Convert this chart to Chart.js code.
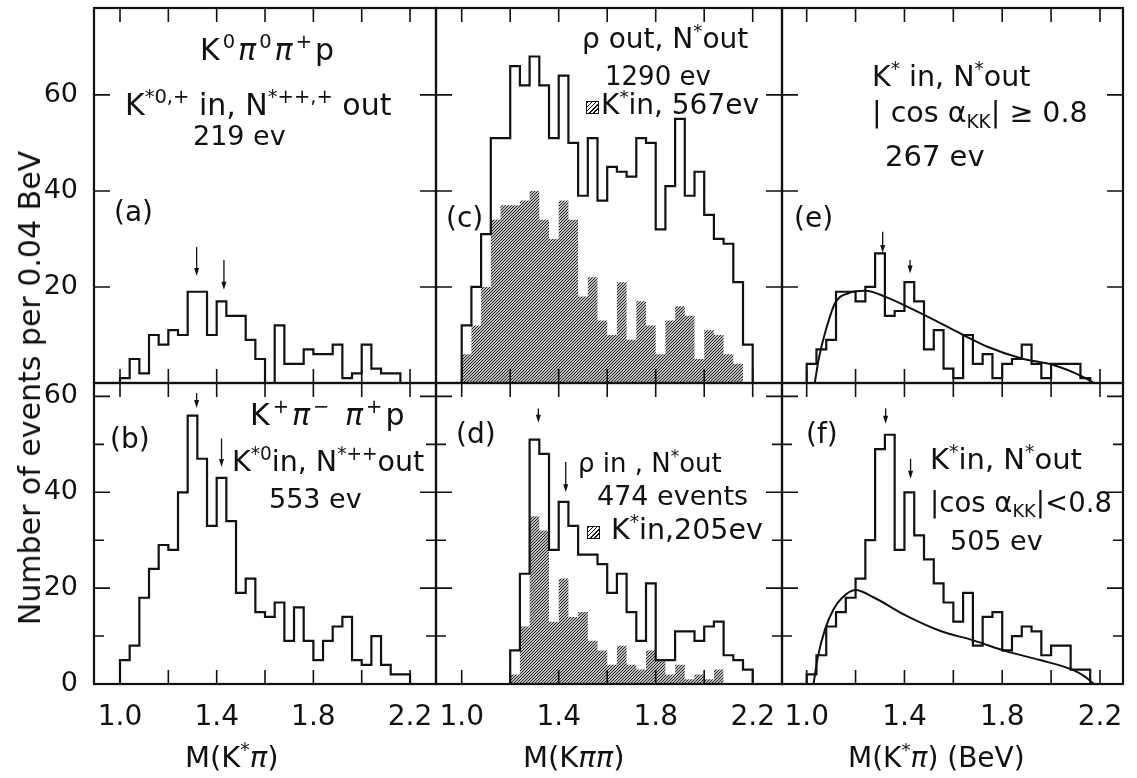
<!DOCTYPE html>
<html>
<head>
<meta charset="utf-8">
<script src="https://cdn.jsdelivr.net/npm/chart.js@4"></script>
<style>
html, body { margin: 0; padding: 0; background: #fff; }
#fig { position: relative; width: 1137px; height: 778px; overflow: hidden; font-family: "DejaVu Sans", sans-serif; color: #111; }
#fig canvas { position: absolute; left: 0; top: 0; }
.t { position: absolute; white-space: nowrap; line-height: 1; }
.t sup { font-size: 0.65em; vertical-align: 0; position: relative; top: -0.6em; }
.t sub { font-size: 0.65em; vertical-align: 0; position: relative; top: 0.32em; }
.wide { letter-spacing: 3px; }
.hb { display: inline-block; width: 11px; height: 11px; border: 1px solid #111; margin-right: 2px;
      background: repeating-linear-gradient(135deg, #111 0 1px, #fff 1px 3px); }
#ytitle { position: absolute; left: 30px; top: 388px; white-space: nowrap; font-size: 30px; line-height: 1;
          transform: translate(-50%, -50%) rotate(-90deg); }
</style>
</head>
<body>
<div id="fig">
  <canvas id="pa" width="1137" height="778"></canvas>
  <canvas id="pb" width="1137" height="778"></canvas>
  <canvas id="pc" width="1137" height="778"></canvas>
  <canvas id="pd" width="1137" height="778"></canvas>
  <canvas id="pe" width="1137" height="778"></canvas>
  <canvas id="pf" width="1137" height="778"></canvas>
  <div id="ytitle">Number of events per 0.04 BeV</div>
</div>
<script>
const binWidth = 0.04;

// (a) K0 pi0 pi+ p
const aStart = 1.00;
const aCounts = [1, 5, 2, 10, 8, 11, 10, 19, 19, 10, 17, 14, 14, 9, 5, 0, 12, 4, 4, 7, 6, 6, 8, 1, 2, 8, 3, 2, 2];

// (b) K+ pi- pi+ p
const bStart = 1.00;
const bCounts = [5, 8, 18, 24, 29, 28, 40, 56, 47, 33, 43, 34, 19, 22, 15, 14, 17, 9, 16, 9, 5, 9, 12, 14, 5, 4, 10, 4, 2, 2];

// (c) rho out, N* out (open) and K* in (hatched)
const cStart = 1.00;
const cOpen = [12, 20, 31, 51, 51, 66, 62, 68, 62, 51, 64, 50, 39, 51, 38, 45, 44, 43, 51, 50, 32, 41, 55, 39, 44, 35, 30, 29, 21, 8];
const cHatch = [6, 12, 20, 34, 37, 37, 38, 40, 34, 30, 38, 34, 18, 22, 13, 10, 21, 9, 17, 12, 6, 13, 16, 14, 5, 11, 10, 6, 4];

// (d) rho in, N* out (open) and K* in (hatched)
const dStart = 1.20;
const dOpen = [7, 23, 51, 48, 28, 38, 33, 27, 27, 25, 19, 23, 15, 9, 21, 5, 5, 11, 11, 9, 12, 13, 6, 5, 3];
const dHatch = [2, 12, 35, 32, 13, 22, 14, 15, 9, 7, 4, 8, 4, 3, 7, 5, 2, 4, 1, 2, 1, 3];

// (e) |cos a_KK| >= 0.8
const eStart = 1.00;
const eCounts = [4, 7, 9, 19, 19, 17, 20, 27, 14, 15, 21, 17, 7, 11, 3, 1, 10, 4, 6, 1, 4, 5, 8, 4, 1, 4, 4, 4, 1];
const eCurveM = [1.033, 1.05, 1.075, 1.116, 1.17, 1.24, 1.32, 1.464, 1.641, 1.737, 1.88, 2.009, 2.105, 2.166, 2.175];
const eCurveN = [0, 5.2, 10.4, 16.6, 18.7, 19.2, 18, 14.6, 10, 7.6, 5.1, 3.75, 1.9, 0.3, 0];

// (f) |cos a_KK| < 0.8
const fStart = 1.00;
const fCounts = [2, 6, 12, 15, 18, 22, 30, 49, 52, 28, 40, 31, 26, 21, 17, 13, 19, 8, 14, 15, 7, 10, 12, 11, 6, 8, 8, 3, 3];
const fCurveM = [1.028, 1.045, 1.075, 1.11, 1.145, 1.20, 1.273, 1.409, 1.545, 1.682, 1.818, 1.955, 2.091, 2.14, 2.175];
const fCurveN = [0, 5.5, 11.4, 15.6, 18, 19.6, 18.1, 14.2, 11.1, 9.1, 6.8, 5.0, 2.9, 1.5, 0];

// arrows: [mass, top, tip]
const arrowsA = [[1.317, 28.3, 22.3], [1.43, 25.6, 19.4]];
const arrowsB = [[1.317, 60.7, 57.6], [1.42, 51.2, 45.3]];
const arrowsD = [[1.316, 57.5, 54.5], [1.429, 46.3, 40.0]];
const arrowsE = [[1.311, 31.5, 27.1], [1.423, 25.6, 22.8]];
const arrowsF = [[1.323, 57.5, 54.3], [1.425, 47.0, 42.8]];

// ticks
const xTicks = [1.0, 1.2, 1.4, 1.6, 1.8, 2.0, 2.2];
const xLabels = [1.0, 1.4, 1.8, 2.2];
const yTicksTop = [0, 20, 40, 60];
const yLabelsTop = [20, 40, 60];
const yTicksBottom = [0, 10, 20, 30, 40, 50, 60];
const yLabelsBottom = [0, 20, 40, 60];

const W = 1137, H = 778;
const AXW = 80, AXH = 60;   // room kept for tick labels
Chart.defaults.font.family = '"DejaVu Sans", sans-serif';
Chart.defaults.color = '#111';

function stepPoints(start, counts) {
    const pts = [{ x: start, y: 0 }];
    counts.forEach((c, i) => pts.push({ x: start + i * binWidth, y: c }));
    pts.push({ x: start + counts.length * binWidth, y: 0 });
    return pts;
}

function hatchPattern() {
    const src = document.createElement('canvas');
    src.width = 3; src.height = 3;
    const g = src.getContext('2d');
    g.strokeStyle = '#1a1a1a';
    g.lineWidth = 1.1;
    g.beginPath();
    g.moveTo(0, 3); g.lineTo(3, 0);
    g.moveTo(-1, 1); g.lineTo(1, -1);
    g.moveTo(2, 4); g.lineTo(4, 2);
    g.stroke();
    return g.createPattern(src, 'repeat');
}
const hatch = hatchPattern();

function openSet(start, counts) {
    return { data: stepPoints(start, counts), stepped: 'before', borderColor: '#111', borderWidth: 2.2, fill: false, pointRadius: 0 };
}
function hatchSet(start, counts) {
    return { data: stepPoints(start, counts), stepped: 'before', borderColor: 'rgba(0,0,0,0)', borderWidth: 0,
             backgroundColor: hatch, fill: 'origin', pointRadius: 0 };
}
function curveSet(ms, ns) {
    return { data: ms.map((m, i) => ({ x: m, y: ns[i] })), borderColor: '#111', borderWidth: 2,
             cubicInterpolationMode: 'monotone', fill: false, pointRadius: 0 };
}

// frame, inward ticks and arrows
const framePlugin = {
    id: 'frame',
    afterDraw(chart, args, opts) {
        const { ctx, chartArea: a } = chart;
        const xs = chart.scales.x, ys = chart.scales.y;
        ctx.save();
        ctx.strokeStyle = '#111';
        ctx.lineWidth = 1.6;
        ctx.beginPath();
        xs.ticks.forEach(t => {
            const px = xs.getPixelForValue(t.value);
            ctx.moveTo(px, a.top); ctx.lineTo(px, a.top + 14);
            ctx.moveTo(px, a.bottom); ctx.lineTo(px, a.bottom - 14);
        });
        ys.ticks.forEach(t => {
            const py = ys.getPixelForValue(t.value);
            if (Math.abs(py - a.bottom) < 2) return;
            const len = t.value % 20 === 0 ? 16 : 10;
            ctx.moveTo(a.left, py); ctx.lineTo(a.left + len, py);
            ctx.moveTo(a.right, py); ctx.lineTo(a.right - len, py);
        });
        ctx.stroke();
        ctx.lineWidth = 2.2;
        ctx.strokeRect(a.left, a.top, a.right - a.left, a.bottom - a.top);

        ctx.fillStyle = '#111';
        ctx.lineWidth = 1.3;
        (opts.arrows || []).forEach(([m, top, tip]) => {
            const px = xs.getPixelForValue(m);
            const p0 = ys.getPixelForValue(top), p1 = ys.getPixelForValue(tip);
            ctx.beginPath();
            ctx.moveTo(px, p0); ctx.lineTo(px, p1 - 6);
            ctx.stroke();
            ctx.beginPath();
            ctx.moveTo(px - 2.5, p1 - 8); ctx.lineTo(px + 2.5, p1 - 8); ctx.lineTo(px, p1);
            ctx.closePath();
            ctx.fill();
        });
        ctx.restore();
    }
};

const cols = [
    { l: 94, r: 436, min: 0.8924, max: 2.3074 },
    { l: 436, r: 782, min: 0.894, max: 2.3208 },
    { l: 782, r: 1123, min: 0.899, max: 2.2942 }
];
const rows = [
    { t: 8, b: 383, max: 78.1, ticks: yTicksTop, labels: yLabelsTop },
    { t: 383, b: 684, max: 62.8, ticks: yTicksBottom, labels: yLabelsBottom }
];

function noPad(s) {
    s.paddingTop = 0; s.paddingBottom = 0; s.paddingLeft = 0; s.paddingRight = 0;
}

function panel(id, col, row, datasets, arrows) {
    const c = cols[col], r = rows[row];
    new Chart(document.getElementById(id), {
        type: 'line',
        data: { datasets: datasets },
        options: {
            responsive: false,
            animation: false,
            layout: { padding: { left: c.l - AXW, right: W - c.r, top: r.t, bottom: H - r.b - AXH } },
            plugins: { legend: { display: false }, tooltip: { enabled: false }, frame: { arrows: arrows } },
            scales: {
                x: {
                    type: 'linear', min: c.min, max: c.max,
                    grid: { display: false }, border: { display: false },
                    afterFit: s => { s.height = AXH; noPad(s); },
                    afterBuildTicks: s => { s.ticks = xTicks.map(v => ({ value: v })); },
                    ticks: {
                        display: row === 1, padding: 9, autoSkip: false, maxRotation: 0,
                        font: { size: 28 }, color: '#111',
                        callback: v => xLabels.includes(v) ? v.toFixed(1) : ''
                    }
                },
                y: {
                    type: 'linear', min: 0, max: r.max,
                    grid: { display: false }, border: { display: false },
                    afterFit: s => { s.width = AXW; noPad(s); },
                    afterBuildTicks: s => { s.ticks = r.ticks.map(v => ({ value: v })); },
                    ticks: {
                        display: col === 0, padding: 8, autoSkip: false,
                        font: { size: 27 }, color: '#111',
                        callback: v => r.labels.includes(v) ? String(v) : ''
                    }
                }
            }
        },
        plugins: [framePlugin]
    });
}

panel('pa', 0, 0, [openSet(aStart, aCounts)], arrowsA);
panel('pb', 0, 1, [openSet(bStart, bCounts)], arrowsB);
panel('pc', 1, 0, [openSet(cStart, cOpen), hatchSet(cStart, cHatch)], []);
panel('pd', 1, 1, [openSet(dStart, dOpen), hatchSet(dStart, dHatch)], arrowsD);
panel('pe', 2, 0, [curveSet(eCurveM, eCurveN), openSet(eStart, eCounts)], arrowsE);
panel('pf', 2, 1, [curveSet(fCurveM, fCurveN), openSet(fStart, fCounts)], arrowsF);

// annotation texts: [html, left, baseline, font size]
const labels = [
    ['<span class="wide">K<sup>0</sup><i>π</i><sup>0</sup><i>π</i><sup>+</sup>p</span>', 200, 60, 30],
    ['K<sup>*0,+</sup> in, N<sup>*++,+</sup> out', 125, 115, 30],
    ['219 ev', 193, 145, 27],
    ['(a)', 114, 222, 28],
    ['<span class="wide">K<sup>+</sup><i>π</i><sup>−</sup> <i>π</i><sup>+</sup>p</span>', 250, 425, 30],
    ['K<sup>*0</sup>in, N<sup>*++</sup>out', 232, 472, 28.5],
    ['553 ev', 269, 508, 27],
    ['(b)', 110, 449, 28],
    ['ρ out, N<sup>*</sup>out', 582, 49, 28],
    ['1290 ev', 605, 85, 26],
    ['<span class="hb"></span>K<sup>*</sup>in, 567ev', 586, 115, 28],
    ['(c)', 446, 228, 28],
    ['(d)', 456, 444, 28],
    ['ρ in , N<sup>*</sup>out', 578, 472, 26],
    ['474 events', 597, 505, 27],
    ['<span class="hb"></span> K<sup>*</sup>in,205ev', 587, 540, 28.5],
    ['K<sup>*</sup> in, N<sup>*</sup>out', 872, 87, 28.5],
    ['| cos α<sub>KK</sub>| ≥ 0.8', 872, 123, 28.5],
    ['267 ev', 885, 167, 29],
    ['(e)', 794, 228, 28],
    ['(f)', 806, 444, 28],
    ['K<sup>*</sup>in, N<sup>*</sup>out', 930, 470, 29],
    ['|cos α<sub>KK</sub>|<0.8', 930, 512, 27.5],
    ['505 ev', 950, 550, 27],
    ['M(K<sup>*</sup><i>π</i>)', 185, 768, 29],
    ['M(K<i>ππ</i>)', 523, 768, 29],
    ['M(K<sup>*</sup><i>π</i>) (BeV)', 848, 768, 28]
];
const fig = document.getElementById('fig');
labels.forEach(([html, left, base, size]) => {
    const d = document.createElement('div');
    d.className = 't';
    d.innerHTML = html;
    d.style.left = left + 'px';
    d.style.top = (base - 0.85 * size) + 'px';
    d.style.fontSize = size + 'px';
    fig.appendChild(d);
});
</script>
</body>
</html>
